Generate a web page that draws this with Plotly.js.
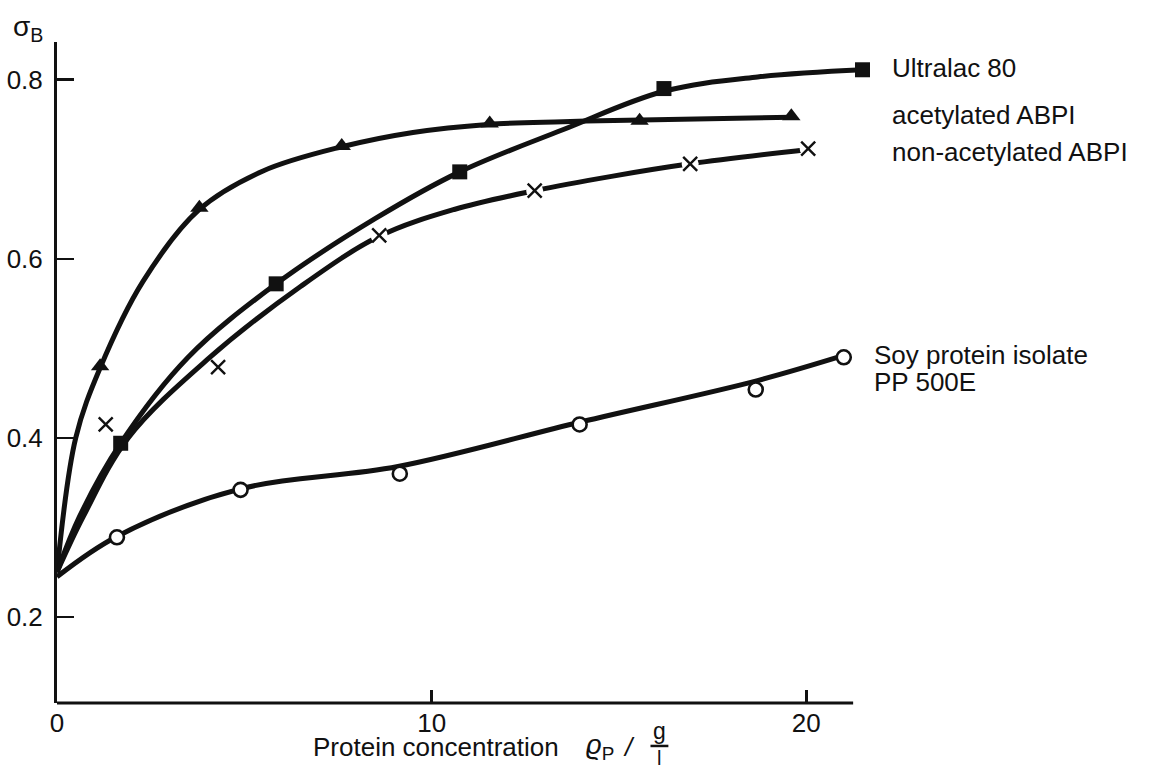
<!DOCTYPE html>
<html>
<head>
<meta charset="utf-8">
<script src="https://cdn.plot.ly/plotly-3.0.1.min.js"></script>
<style>html,body{margin:0;padding:0;background:#fff;}#chart{width:1155px;height:770px;}</style>
</head>
<body>
<div id="chart"></div>
<script>
// ---- data ----
// measured points
const ultraX = [1.7, 5.85, 10.75, 16.2, 21.5];
const ultraY = [0.394, 0.572, 0.697, 0.79, 0.811];
const acetX = [1.15, 3.8, 7.6, 11.55, 15.55, 19.6];
const acetY = [0.48, 0.657, 0.726, 0.751, 0.754, 0.759];
const nonX = [1.3, 4.3, 8.6, 12.75, 16.9, 20.05];
const nonY = [0.415, 0.479, 0.626, 0.676, 0.706, 0.723];
const soyX = [1.6, 4.9, 9.15, 13.95, 18.65, 21.0];
const soyY = [0.289, 0.342, 0.36, 0.415, 0.454, 0.49];

// hand-drawn fitted curves
const ultraCurveX = [0, 0.6, 1.7, 3.5, 5.85, 8.5, 10.75, 13.5, 16.2, 18.7, 21.5];
const ultraCurveY = [0.25, 0.312, 0.394, 0.49, 0.572, 0.645, 0.697, 0.744, 0.787, 0.803, 0.811];
const acetCurveX = [0, 0.5, 1.15, 2.3, 3.8, 5.5, 7.6, 9.5, 11.5, 13.5, 15.6, 19.6];
const acetCurveY = [0.25, 0.40, 0.478, 0.575, 0.655, 0.698, 0.725, 0.741, 0.75, 0.753, 0.755, 0.758];
const nonCurveX = [0, 0.7, 1.9, 4.0, 6.5, 8.6, 10.6, 12.75, 14.8, 16.9, 20.05];
const nonCurveY = [0.25, 0.312, 0.40, 0.487, 0.569, 0.625, 0.655, 0.676, 0.692, 0.706, 0.722];
const soyCurveX = [0, 1.6, 4.9, 9.1, 14.0, 18.7, 21.0];
const soyCurveY = [0.245, 0.29, 0.343, 0.368, 0.418, 0.464, 0.492];

const seriesNames = ["Ultralac 80", "acetylated ABPI", "non-acetylated ABPI", "Soy protein isolate", "PP 500E"];
const xTickVals = [0, 10, 20];
const xTickText = ["0", "10", "20"];
const yTickVals = [0.2, 0.4, 0.6, 0.8];
const yTickText = ["0.2", "0.4", "0.6", "0.8"];
const xTitle = "Protein concentration";
const yTitle = "σ<sub>B</sub>";

// ---- drawing ----
const INK = "#111111";
const FONT = "Liberation Sans, Arial, sans-serif";
const curveLine = {color: INK, width: 5, shape: "spline", smoothing: 1};

const traces = [
  {x: ultraCurveX, y: ultraCurveY, mode: "lines", line: curveLine, hoverinfo: "skip"},
  {x: acetCurveX, y: acetCurveY, mode: "lines", line: curveLine, hoverinfo: "skip"},
  {x: nonCurveX, y: nonCurveY, mode: "lines", line: curveLine, hoverinfo: "skip"},
  {x: soyCurveX, y: soyCurveY, mode: "lines", line: curveLine, hoverinfo: "skip"},
  // white gaps around the crosses
  {x: nonX, y: nonY, mode: "markers", marker: {symbol: "circle", size: 17, color: "#ffffff", line: {width: 0}}, cliponaxis: false, hoverinfo: "skip"},
  {x: ultraX, y: ultraY, mode: "markers", name: seriesNames[0],
   marker: {symbol: "square", size: 15, color: INK, line: {width: 0}}, cliponaxis: false},
  {x: acetX, y: acetY, mode: "markers", name: seriesNames[1],
   marker: {symbol: "triangle-up", size: 16, color: INK, line: {width: 0}}, cliponaxis: false},
  {x: nonX, y: nonY, mode: "markers", name: seriesNames[2],
   marker: {symbol: "x-thin", size: 14, color: INK, line: {width: 2.4, color: INK}}, cliponaxis: false},
  {x: soyX, y: soyY, mode: "markers", name: seriesNames[3],
   marker: {symbol: "circle", size: 14, color: "#ffffff", line: {width: 2.6, color: INK}}, cliponaxis: false}
];

const labelFont = {family: FONT, size: 26, color: INK};
const annotations = [
  {x: 1.0246, y: 0.9607, text: seriesNames[0]},
  {x: 1.0246, y: 0.8896, text: seriesNames[1]},
  {x: 1.0246, y: 0.8336, text: seriesNames[2]},
  {x: 1.0025, y: 0.5265, text: seriesNames[3]},
  {x: 1.0025, y: 0.4856, text: seriesNames[4]}
].map(a => Object.assign({xref: "paper", yref: "paper", xanchor: "left", yanchor: "middle", showarrow: false, font: labelFont}, a));

// y-axis title
annotations.push({xref: "paper", yref: "paper", x: -0.056, y: 1.02, xanchor: "left", yanchor: "middle",
  showarrow: false, text: yTitle, font: {family: FONT, size: 28, color: INK}});
// x-axis title pieces
annotations.push({xref: "paper", yref: "paper", x: 0.313, y: -0.0666, xanchor: "left", yanchor: "middle",
  showarrow: false, text: xTitle, font: labelFont});
annotations.push({xref: "paper", yref: "paper", x: 0.648, y: -0.0666, xanchor: "left", yanchor: "middle",
  showarrow: false, text: "<i>ϱ</i><sub>P</sub>", font: {family: FONT, size: 27, color: INK}});
annotations.push({xref: "paper", yref: "paper", x: 0.703, y: -0.0666, xanchor: "center", yanchor: "middle",
  showarrow: false, text: "<i>/</i>", font: labelFont});
annotations.push({xref: "paper", yref: "paper", x: 0.741, y: -0.0424, xanchor: "center", yanchor: "middle",
  showarrow: false, text: "g", font: {family: FONT, size: 23, color: INK}});
annotations.push({xref: "paper", yref: "paper", x: 0.741, y: -0.0832, xanchor: "center", yanchor: "middle",
  showarrow: false, text: "l", font: {family: FONT, size: 20, color: INK}});

const shapes = [
  // x axis line (stops short of the last data point)
  {type: "line", xref: "x", yref: "paper", x0: 0, x1: 21.25, y0: 0, y1: 0, line: {color: INK, width: 3}},
  // fraction bar in the x title
  {type: "line", xref: "paper", yref: "paper", x0: 0.730, x1: 0.752, y0: -0.065, y1: -0.065, line: {color: INK, width: 2.5}}
];

const layout = {
  width: 1155, height: 770,
  margin: {l: 57, r: 285, t: 42, b: 67},
  paper_bgcolor: "#ffffff", plot_bgcolor: "#ffffff",
  showlegend: false,
  font: {family: FONT, color: INK},
  xaxis: {
    range: [0, 21.7], showgrid: false, zeroline: false, showline: false,
    tickmode: "array", tickvals: xTickVals, ticktext: xTickText,
    ticks: "inside", ticklen: 13, tickwidth: 2.5, tickcolor: INK,
    tickfont: {family: FONT, size: 26, color: INK}, ticklabelstandoff: 2
  },
  yaxis: {
    range: [0.104, 0.842], showgrid: false, zeroline: false,
    showline: true, linecolor: INK, linewidth: 3,
    tickmode: "array", tickvals: yTickVals, ticktext: yTickText,
    ticks: "inside", ticklen: 17, tickwidth: 2.5, tickcolor: INK,
    tickfont: {family: FONT, size: 26, color: INK}, ticklabelstandoff: 6
  },
  annotations: annotations,
  shapes: shapes
};

Plotly.newPlot("chart", traces, layout, {staticPlot: true, displayModeBar: false});
</script>
</body>
</html>
